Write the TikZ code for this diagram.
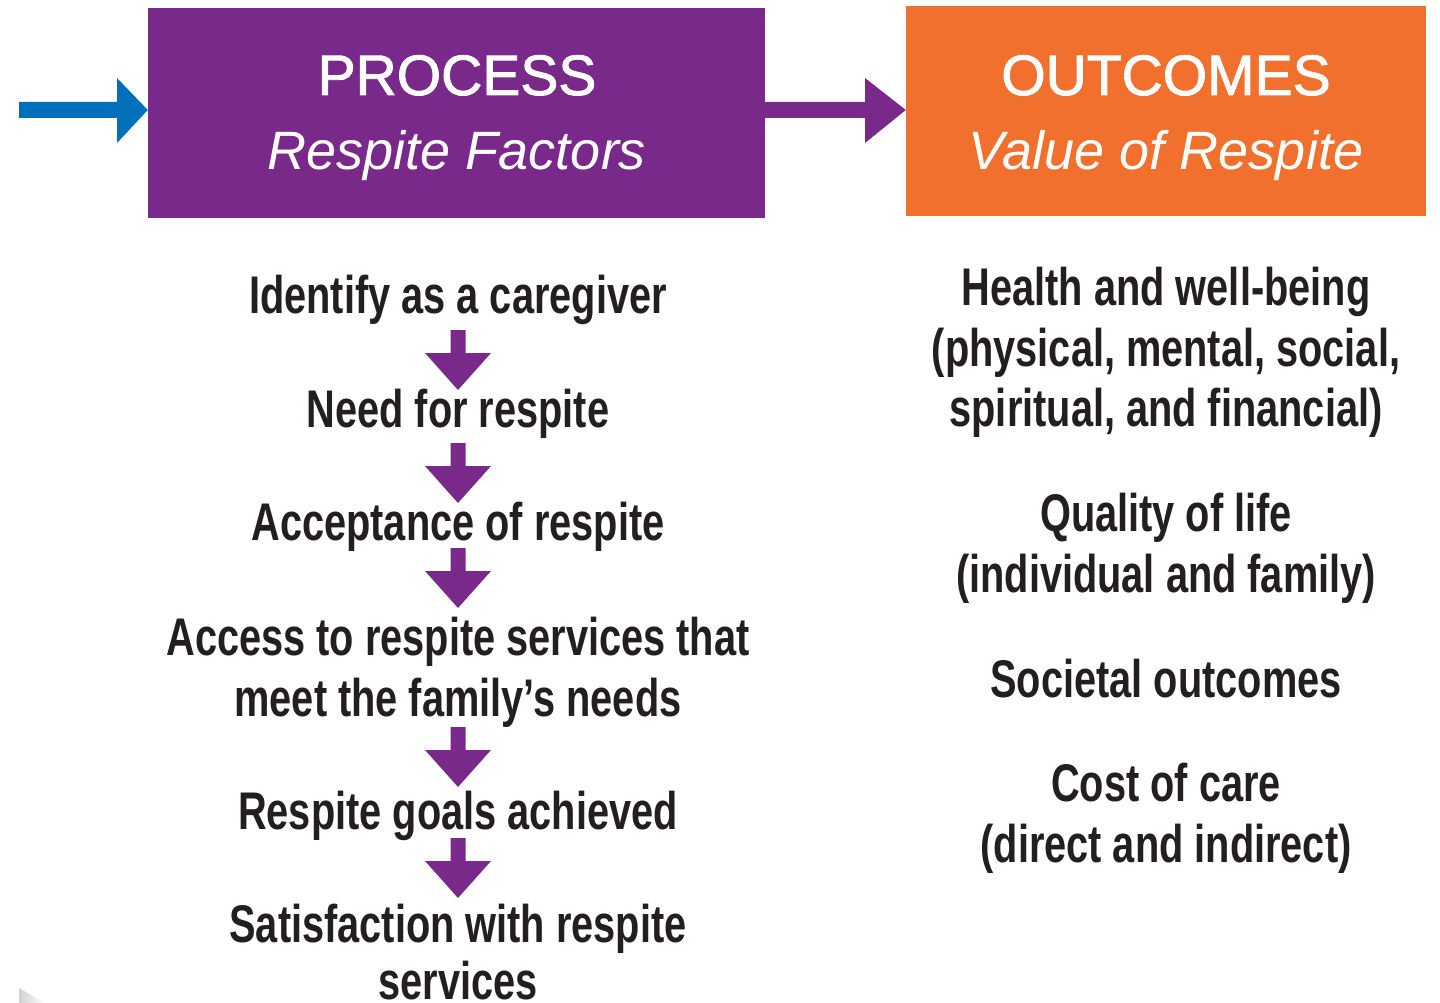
\documentclass[tikz,border=0pt]{standalone}
\usepackage{fontspec}
\setmainfont{Liberation Sans}
\newfontfamily\bodyfont[FakeStretch=0.75]{Liberation Sans}
\newfontfamily\headfont[FakeBold=1.6]{Liberation Sans}
\definecolor{pur}{RGB}{120,41,137}
\definecolor{org}{RGB}{242,112,46}
\definecolor{blu}{RGB}{0,112,186}
\definecolor{txt}{RGB}{35,31,32}
\tikzset{
  body/.style={font=\bodyfont\bfseries\fontsize{53}{61}\selectfont, text=txt, anchor=base, inner sep=0pt},
  headA/.style={font=\headfont\fontsize{57}{64}\selectfont, text=white, anchor=base, inner sep=0pt},
  headB/.style={font=\itshape\fontsize{54}{60}\selectfont, text=white, anchor=base, inner sep=0pt},
  hbox/.style={inner sep=0pt, minimum height=210pt},
}
\begin{document}
\begin{tikzpicture}[x=1pt,y=-1pt]
\useasboundingbox[fill=white] (0,0) rectangle (1440,1003);
% header boxes
\node[hbox, fill=pur, minimum width=617pt] (proc) at (456.5,113) {};
\node[hbox, fill=org, minimum width=520pt] (outc) at (1166,111) {};
\node[headA] (procT) at (457,95) {PROCESS};
\node[headB] (procS) at (457,170) {Respite Factors};
\node[headA] (outcT) at (1166,95) {OUTCOMES};
\node[headB] (outcS) at (1166,170) {Value of Respite};
% horizontal block arrows
\fill[blu] (19,102) -- (117,102) -- (117,78) -- (proc.west |- 0,110) -- (117,143) -- (117,118) -- (19,118) -- cycle;
\fill[pur] (proc.east |- 0,102) -- (865,102) -- (865,78) -- (outc.west |- 0,110) -- (865,143) -- (865,118) -- (proc.east |- 0,118) -- cycle;
% left column
\node[body] (l1) at (458,313) {Identify as a caregiver};
\node[body] (l2) at (458,427) {Need for respite};
\node[body] (l3) at (458,540) {Acceptance of respite};
\node[body] (l4a) at (458,655) {Access to respite services that};
\node[body] (l4b) at (458,716) {meet the family’s needs};
\node[body] (l5) at (458,829) {Respite goals achieved};
\node[body] (l6a) at (458,942) {Satisfaction with respite};
\node[body] (l6b) at (458,999) {services};
% down arrows
\foreach \t in {330,443,548,727,838}{
  \fill[pur] (450.5,\t) -- ++(15,0) -- ++(0,23) -- ++(25.5,0) -- ++(-33,37) -- ++(-33,-37) -- ++(25.5,0) -- cycle;
}
% right column
\node[body] (r1a) at (1166,305) {Health and well-being};
\node[body] (r1b) at (1166,366) {(physical, mental, social,};
\node[body] (r1c) at (1166,426) {spiritual, and financial)};
\node[body] (r2a) at (1166,531) {Quality of life};
\node[body] (r2b) at (1166,592) {(individual and family)};
\node[body] (r3) at (1166,697) {Societal outcomes};
\node[body] (r4a) at (1166,801) {Cost of care};
\node[body] (r4b) at (1166,862) {(direct and indirect)};
% corner shade
\shade[left color=black!18, right color=white] (19,988) -- (45,1003) -- (19,1003) -- cycle;
\end{tikzpicture}
\end{document}
